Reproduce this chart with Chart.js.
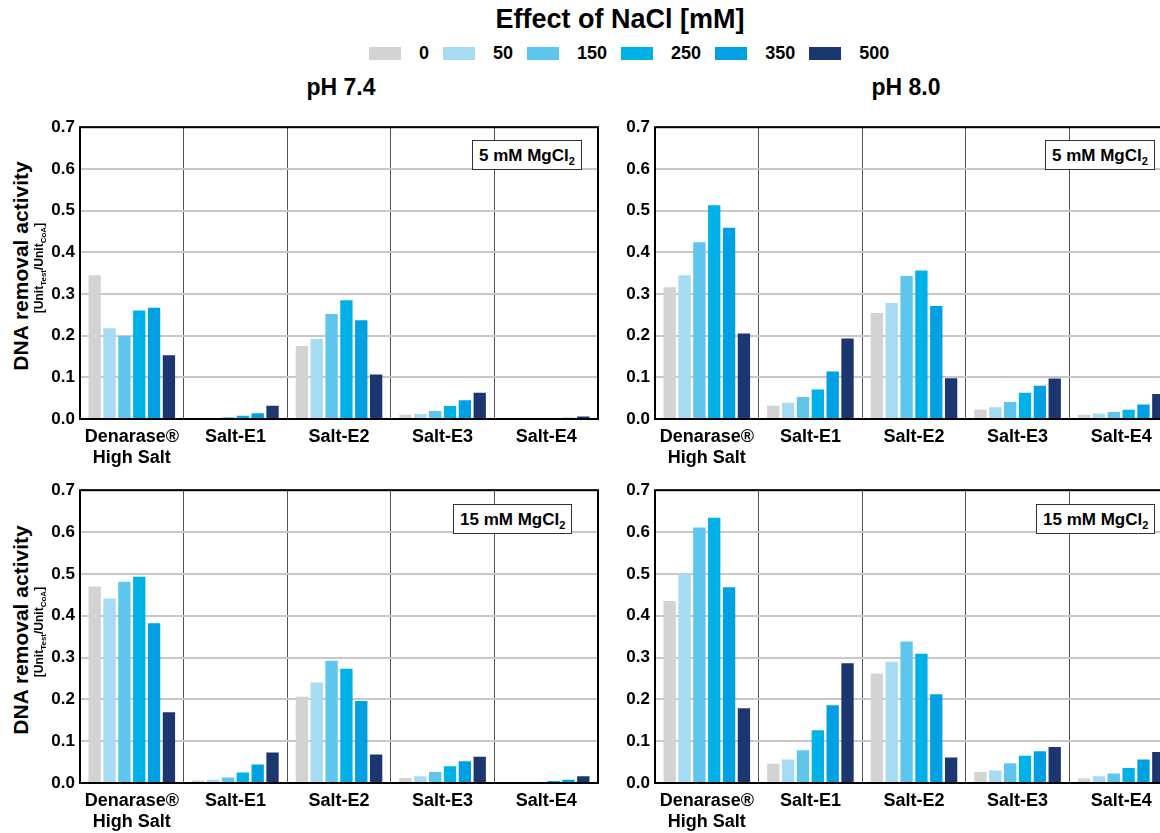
<!DOCTYPE html>
<html lang="en">
<head>
<meta charset="UTF-8">
<title>Effect of NaCl</title>
<style>
  html, body { margin: 0; padding: 0; }
  body {
    width: 1160px; height: 833px; overflow: hidden; position: relative;
    background: #fff; color: #000;
    font-family: "Liberation Sans", Arial, sans-serif; font-weight: bold;
  }
  .abs { position: absolute; white-space: nowrap; }
  #title { left: 0; width: 1240px; top: 4px; text-align: center; font-size: 27px; }
  #legend { left: 369px; top: 42px; display: flex; align-items: center; font-size: 18px; line-height: 22px; }
  #legend .sw { width: 32px; height: 13px; margin-right: 18px; }
  #legend .lb { margin-right: 14px; }
  .ph { top: 74px; font-size: 23px; width: 200px; text-align: center; }
  canvas { position: absolute; }
  .ytitle { width: 300px; height: 26px; line-height: 26px; text-align: center; font-size: 21px; transform: rotate(-90deg); }
  .ysub { width: 200px; height: 14px; line-height: 14px; text-align: center; font-size: 12px; transform: rotate(-90deg); }
  .ysub sub { font-size: 8px; }
  .mg { border: 1px solid #333; background: #fff; height: 30px; line-height: 30px; font-size: 17px; padding: 0 6px; box-sizing: border-box; }
  .mg sub { font-size: 11px; line-height: 0; }
</style>
</head>
<body>
<div id="title" class="abs">Effect of NaCl [mM]</div>
<div id="legend" class="abs"></div>
<div class="abs ph" style="left:241px">pH 7.4</div>
<div class="abs ph" style="left:806px">pH 8.0</div>

<canvas id="c1" width="565" height="360" style="left:40px;top:112px"></canvas>
<canvas id="c2" width="565" height="360" style="left:615px;top:112px"></canvas>
<canvas id="c3" width="565" height="358" style="left:40px;top:475px"></canvas>
<canvas id="c4" width="565" height="358" style="left:615px;top:475px"></canvas>

<div class="abs ytitle" style="left:-129px;top:253px">DNA removal activity</div>
<div class="abs ysub" style="left:-61px;top:261px">[Unit<sub>Test</sub>/Unit<sub>CoA</sub>]</div>
<div class="abs ytitle" style="left:-129px;top:617px">DNA removal activity</div>
<div class="abs ysub" style="left:-61px;top:625px">[Unit<sub>Test</sub>/Unit<sub>CoA</sub>]</div>

<div class="abs mg" style="left:472px;top:140px">5 mM MgCl<sub>2</sub></div>
<div class="abs mg" style="left:1045px;top:140px">5 mM MgCl<sub>2</sub></div>
<div class="abs mg" style="left:453px;top:504px">15 mM MgCl<sub>2</sub></div>
<div class="abs mg" style="left:1036px;top:504px">15 mM MgCl<sub>2</sub></div>

<script src="https://cdn.jsdelivr.net/npm/chart.js"></script>
<script>
// categories and NaCl concentrations
var categories = [['Denarase®', 'High Salt'], 'Salt-E1', 'Salt-E2', 'Salt-E3', 'Salt-E4'];
var naclLevels = ['0', '50', '150', '250', '350', '500'];
var naclColors = ['#d3d3d3', '#a6dbf4', '#5ec5ed', '#00b1e7', '#00a0e2', '#1c366f'];

// one row per NaCl level, one value per category
var ph74mg5 = [
  [0.345, 0.001, 0.175, 0.010, 0.000],
  [0.218, 0.002, 0.192, 0.012, 0.000],
  [0.199, 0.004, 0.252, 0.019, 0.000],
  [0.260, 0.008, 0.285, 0.031, 0.001],
  [0.267, 0.014, 0.237, 0.045, 0.003],
  [0.153, 0.032, 0.107, 0.063, 0.006]
];
var ph80mg5 = [
  [0.316, 0.032, 0.254, 0.023, 0.010],
  [0.345, 0.039, 0.278, 0.028, 0.013],
  [0.424, 0.053, 0.343, 0.041, 0.017],
  [0.513, 0.071, 0.356, 0.063, 0.022],
  [0.459, 0.114, 0.271, 0.080, 0.035],
  [0.205, 0.193, 0.098, 0.097, 0.060]
];
var ph74mg15 = [
  [0.470, 0.006, 0.206, 0.012, 0.000],
  [0.441, 0.008, 0.240, 0.016, 0.000],
  [0.481, 0.013, 0.292, 0.026, 0.002],
  [0.493, 0.025, 0.273, 0.040, 0.005],
  [0.382, 0.044, 0.196, 0.052, 0.008],
  [0.169, 0.073, 0.068, 0.063, 0.016]
];
var ph80mg15 = [
  [0.435, 0.046, 0.262, 0.026, 0.011],
  [0.500, 0.056, 0.290, 0.030, 0.016],
  [0.611, 0.078, 0.338, 0.047, 0.023],
  [0.634, 0.126, 0.309, 0.065, 0.036],
  [0.468, 0.186, 0.212, 0.076, 0.056],
  [0.179, 0.286, 0.061, 0.086, 0.074]
];

// shared legend
var legend = document.getElementById('legend');
naclLevels.forEach(function(lvl, i) {
  var sw = document.createElement('span');
  sw.className = 'sw';
  sw.style.background = naclColors[i];
  var lb = document.createElement('span');
  lb.className = 'lb';
  lb.textContent = lvl;
  legend.appendChild(sw);
  legend.appendChild(lb);
});

// black frame round the plot area
var framePlugin = {
  id: 'frame',
  afterDatasetsDraw: function(chart) {
    var a = chart.chartArea, ctx = chart.ctx;
    ctx.save();
    ctx.strokeStyle = '#000';
    ctx.lineWidth = 2;
    ctx.strokeRect(a.left, a.top, a.right - a.left, a.bottom - a.top);
    ctx.restore();
  }
};

var font = "'Liberation Sans', Arial, sans-serif";

function makeChart(id, rows, xHeight) {
  var datasets = rows.map(function(vals, i) {
    return {
      label: naclLevels[i],
      data: vals,
      backgroundColor: naclColors[i],
      categoryPercentage: 0.86,
      barPercentage: 0.83
    };
  });
  return new Chart(document.getElementById(id), {
    type: 'bar',
    data: { labels: categories, datasets: datasets },
    plugins: [framePlugin],
    options: {
      responsive: false,
      animation: false,
      layout: { padding: { top: 13, right: 7, left: 0, bottom: 0 } },
      plugins: { legend: { display: false }, tooltip: { enabled: false } },
      scales: {
        x: {
          offset: true,
          grid: { offset: true, color: '#555', lineWidth: 1, drawTicks: false },
          border: { display: false },
          ticks: {
            color: '#000', padding: 8, maxRotation: 0, autoSkip: false,
            font: { family: font, size: 18, weight: 'bold', lineHeight: 1.15 }
          },
          afterFit: function(s) { s.height = xHeight; }
        },
        y: {
          min: 0, max: 0.7,
          grid: { color: '#c8c8c8', lineWidth: 2, drawTicks: false },
          border: { display: false },
          ticks: {
            stepSize: 0.1, color: '#000', padding: 5,
            font: { family: font, size: 17, weight: 'bold' },
            callback: function(v) { return v.toFixed(1); }
          },
          afterFit: function(s) { s.width = 40; }
        }
      }
    }
  });
}

makeChart('c1', ph74mg5, 53);
makeChart('c2', ph80mg5, 53);
makeChart('c3', ph74mg15, 50);
makeChart('c4', ph80mg15, 50);
</script>
</body>
</html>
